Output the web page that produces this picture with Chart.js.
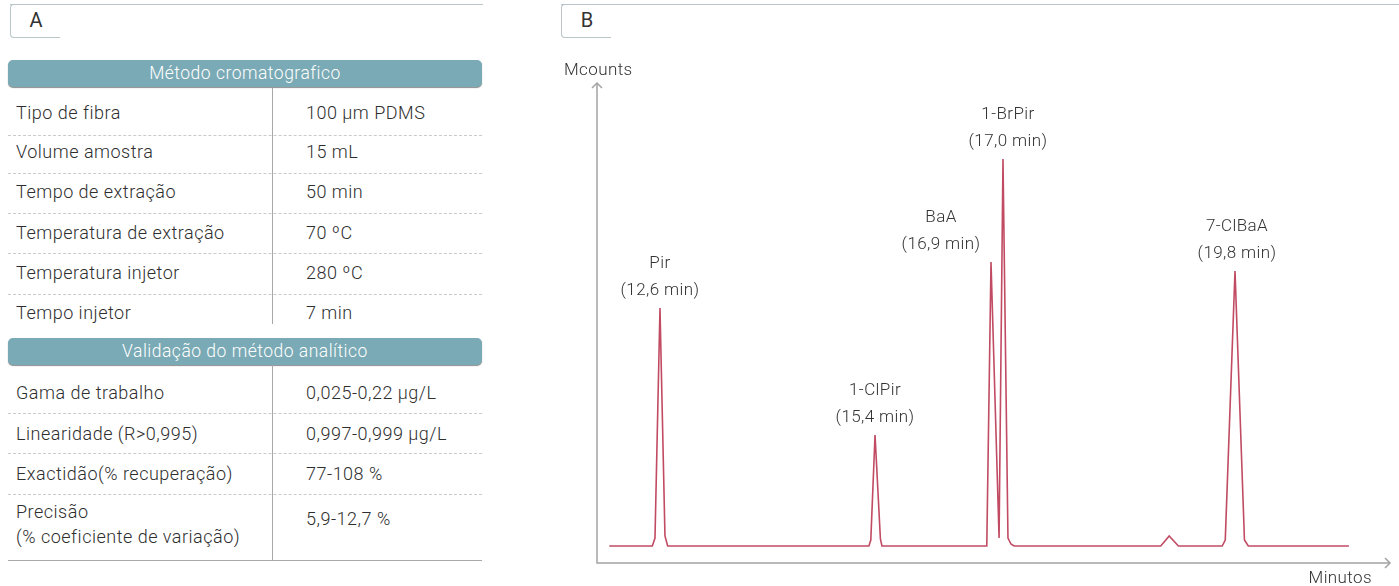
<!DOCTYPE html>
<html>
<head>
<meta charset="utf-8">
<script src="https://cdn.jsdelivr.net/npm/chart.js@4.4.0/dist/chart.umd.min.js"></script>
<style>
    body { margin: 0; background: #fff; font-family: Roboto, 'Noto Sans', sans-serif; color: #333; }
    #page { position: relative; width: 1399px; height: 586px; overflow: hidden; }
    .tab { position: absolute; top: 4px; height: 32px; border-top: 1px solid #b9c5c9; }
    .tab .box { position: absolute; left: 0; top: -1px; width: 49px; height: 32px; border: 1px solid #b9c5c9; border-right: none; border-radius: 4px 0 0 4px; }
    .tab .letter { position: absolute; left: 0; width: 52px; top: 3px; text-align: center; font-size: 20px; font-weight: 400; color: #333; }
    .hdr { position: absolute; left: 8px; width: 474px; height: 27px; background: #7aaab5; border-radius: 5px; box-shadow: 0 1px 1px rgba(0,0,0,0.45);
           color: #fff; font-size: 17.5px; font-weight: 300; line-height: 27px; text-align: center; letter-spacing: 0.5px; }
    .cell { position: absolute; font-size: 18px; font-weight: 300; letter-spacing: 0.5px; line-height: 25px; transform: translateY(-50%); white-space: nowrap; color: #2e2e2e; }
    .dash { position: absolute; left: 8px; width: 474px; border-top: 1px dashed #cacaca; }
    .vline { position: absolute; left: 272px; width: 0; border-left: 1px solid #a8a8a8; }
    #chartBox { position: absolute; left: 540px; top: 40px; width: 859px; height: 546px; }
</style>
</head>
<body>
<div id="page">
    <div class="tab" style="left:10px; width:473px;"><div class="box"></div><div class="letter">A</div></div>
    <div class="tab" style="left:561px; width:838px;"><div class="box"></div><div class="letter">B</div></div>
    <div id="tableA"></div>
    <div id="chartBox"><canvas id="chromChart" width="859" height="546"></canvas></div>
</div>
<script>
// panel A
const methodRows = [
    ['Tipo de fibra', '100 µm PDMS'],
    ['Volume amostra', '15 mL'],
    ['Tempo de extração', '50 min'],
    ['Temperatura de extração', '70 ºC'],
    ['Temperatura injetor', '280 ºC'],
    ['Tempo injetor', '7 min']
];
const validationRows = [
    ['Gama de trabalho', '0,025-0,22 µg/L'],
    ['Linearidade (R>0,995)', '0,997-0,999 µg/L'],
    ['Exactidão(% recuperação)', '77-108 %'],
    ['Precisão<br>(% coeficiente de variação)', '5,9-12,7 %']
];

// panel B - chromatogram trace (min, Mcounts)
const traceTimes = [
    11.94,
    12.50, 12.535, 12.60, 12.665, 12.70,
    15.32, 15.345, 15.40, 15.47, 15.49,
    16.855, 16.91, 17.015, 17.066, 17.131, 17.17, 17.21,
    19.12, 19.23, 19.35,
    19.92, 19.96, 20.087, 20.21, 20.26,
    21.57
];
const traceSignal = [
    0,
    0, 0.08, 2.38, 0.10, 0,
    0, 0.06, 1.11, 0.07, 0,
    0, 2.84, 0.08, 3.87, 0.08, 0.02, 0,
    0, 0.10, 0,
    0, 0.06, 2.75, 0.06, 0,
    0
];
const peakNames = ['Pir', '1-ClPir', 'BaA', '1-BrPir', '7-ClBaA'];
const peakTimeLabels = ['(12,6 min)', '(15,4 min)', '(16,9 min)', '(17,0 min)', '(19,8 min)'];
const peakPointIndex = [3, 8, 12, 14, 23];
const labelShiftX = [0, 0, -50, 5, 2];

function buildTable() {
    const root = document.getElementById('tableA');
    let html = '';
    html += '<div class="hdr" style="top:60px">Método cromatografico</div>';
    const rowY1 = [112, 151, 191, 232, 272, 312];
    const dashY1 = [135, 173, 213, 253, 294];
    methodRows.forEach((r, i) => {
        html += `<div class="cell" style="left:16px; top:${rowY1[i]}px">${r[0]}</div>`;
        html += `<div class="cell" style="left:306px; top:${rowY1[i]}px">${r[1]}</div>`;
    });
    dashY1.forEach(y => { html += `<div class="dash" style="top:${y}px"></div>`; });
    html += '<div class="vline" style="top:88px; height:236px"></div>';

    html += '<div class="hdr" style="top:338px">Validação do método analítico</div>';
    const rowY2 = [392, 433, 473, 524];
    const dashY2 = [413, 453, 494];
    validationRows.forEach((r, i) => {
        const valY = i === 3 ? 518 : rowY2[i];
        html += `<div class="cell" style="left:16px; top:${rowY2[i]}px">${r[0]}</div>`;
        html += `<div class="cell" style="left:306px; top:${valY}px">${r[1]}</div>`;
    });
    dashY2.forEach(y => { html += `<div class="dash" style="top:${y}px"></div>`; });
    html += '<div class="vline" style="top:365px; height:195px"></div>';
    html += '<div style="position:absolute; left:8px; top:560px; width:474px; border-top:1px solid #a8a8a8"></div>';
    root.innerHTML = html;
}
buildTable();

const axisArrows = {
    id: 'axisArrows',
    afterDraw(chart) {
        const ctx = chart.ctx;
        const a = chart.chartArea;
        ctx.save();
        ctx.strokeStyle = '#a3a3a3';
        ctx.lineWidth = 1.5;
        ctx.beginPath();
        ctx.moveTo(a.left, a.top);
        ctx.lineTo(a.left, a.bottom);
        ctx.lineTo(a.right, a.bottom);
        ctx.stroke();
        ctx.beginPath();
        ctx.moveTo(a.left - 5, a.top + 5);
        ctx.lineTo(a.left, a.top);
        ctx.lineTo(a.left + 5, a.top + 5);
        ctx.moveTo(a.right - 5, a.bottom - 5);
        ctx.lineTo(a.right, a.bottom);
        ctx.lineTo(a.right - 5, a.bottom + 5);
        ctx.stroke();

        ctx.fillStyle = '#333';
        ctx.font = '300 17px Roboto';
        ctx.letterSpacing = '0.4px';
        ctx.textBaseline = 'middle';
        ctx.textAlign = 'left';
        ctx.fillText('Mcounts', a.left - 33, a.top - 12);
        ctx.textAlign = 'right';
        ctx.fillText('Minutos', a.right - 18, a.bottom + 16);

        // peak labels
        const meta = chart.getDatasetMeta(0);
        ctx.textAlign = 'center';
        peakNames.forEach((name, i) => {
            const pt = meta.data[peakPointIndex[i]];
            const x = pt.x + labelShiftX[i];
            ctx.fillText(name, x, pt.y - 44);
            ctx.fillText(peakTimeLabels[i], x, pt.y - 17);
        });
        ctx.restore();
    }
};

new Chart(document.getElementById('chromChart'), {
    type: 'line',
    data: {
        datasets: [{
            data: traceTimes.map((t, i) => ({ x: t, y: traceSignal[i] })),
            borderColor: '#c14b63',
            borderWidth: 1.6,
            pointRadius: 0,
            tension: 0,
            fill: false
        }]
    },
    options: {
        responsive: false,
        animation: false,
        devicePixelRatio: 1,
        layout: { padding: { left: 57, right: 9, top: 43, bottom: 23 } },
        plugins: { legend: { display: false }, tooltip: { enabled: false } },
        scales: {
            x: { type: 'linear', min: 11.78, max: 22.105, display: false },
            y: { min: -0.17, max: 4.63, display: false }
        }
    },
    plugins: [axisArrows]
});
</script>
</body>
</html>
